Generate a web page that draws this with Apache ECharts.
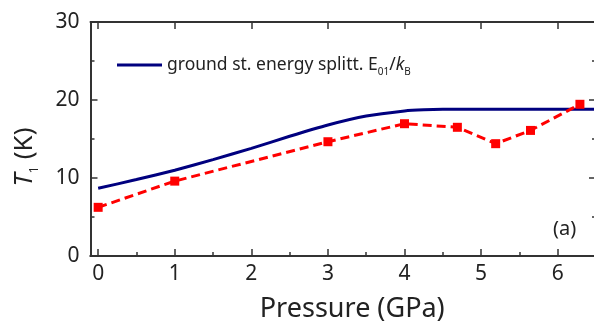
<!DOCTYPE html>
<html>
<head>
<meta charset="utf-8">
<script src="https://cdn.jsdelivr.net/npm/echarts@6/dist/echarts.min.js"></script>
<style>
html,body{margin:0;padding:0;background:#fff;}
#chart{width:594px;height:322px;}
</style>
</head>
<body>
<div id="chart"></div>
<script>
// Data
const pressureBlue = [0, 0.5, 1, 1.5, 2, 2.5, 3, 3.5, 4, 4.25, 4.5, 5, 5.5, 6, 6.5];
const energyBlue   = [8.68, 9.8, 11.0, 12.35, 13.8, 15.35, 16.8, 17.95, 18.6, 18.75, 18.8, 18.8, 18.8, 18.8, 18.8];
const pressureRed  = [0, 1, 3, 4, 4.69, 5.19, 5.645, 6.29];
const t1Red        = [6.24, 9.6, 14.65, 16.96, 16.5, 14.4, 16.1, 19.45];
const xMajorTicks  = [0, 1, 2, 3, 4, 5, 6];
const xMinorTicks  = [0.5, 1.5, 2.5, 3.5, 4.5, 5.5];
const yMajorTicks  = [0, 10, 20, 30];
const yMinorTicks  = [5, 15, 25];
const legendName   = 'ground st. energy splitt. E01/kB';

const FONT = 'Noto Sans';
const AXC = '#333';
const TXT = '#222';

const chart = echarts.init(document.getElementById('chart'), null, {renderer: 'canvas'});

const xBase = {type: 'value', min: -0.1, max: 6.5, splitLine: {show: false}};
const yBase = {type: 'value', min: 0, max: 30, splitLine: {show: false}};
function lineOn() { return {show: true, onZero: false, lineStyle: {color: AXC, width: 2}}; }

const option = {
  animation: false,
  backgroundColor: '#fff',
  grid: {left: 90.5, right: -2, top: 22, bottom: 66, containLabel: false, outerBoundsMode: 'none'},
  legend: {
    left: 117, top: 56, padding: 0,
    itemWidth: 45, itemHeight: 3, itemGap: 5,
    data: [{name: legendName, icon: 'rect'}],
    formatter: function () {
      return '{n|ground st. energy splitt. E}{s|01}{n|/}{i|k}{s|B}';
    },
    textStyle: {
      fontFamily: FONT, fontSize: 17.5, color: TXT,
      rich: {
        n: {fontFamily: FONT, fontSize: 17.5, color: TXT, lineHeight: 24, verticalAlign: 'middle'},
        i: {fontFamily: FONT, fontSize: 17.5, color: TXT, fontStyle: 'italic', lineHeight: 24, verticalAlign: 'middle'},
        s: {fontFamily: FONT, fontSize: 10, color: TXT, lineHeight: 10, verticalAlign: 'bottom'}
      }
    }
  },
  xAxis: [
    Object.assign({}, xBase, {
      position: 'bottom',
      axisLine: lineOn(),
      axisTick: {show: true, inside: true, length: 7, customValues: xMajorTicks, lineStyle: {color: AXC, width: 1.5}},
      axisLabel: {show: true, customValues: xMajorTicks, fontFamily: FONT, fontSize: 21, color: TXT, margin: 8},
      name: 'Pressure (GPa)', nameLocation: 'middle', nameGap: 40,
      nameTextStyle: {fontFamily: FONT, fontSize: 27, color: TXT, padding: [0, 0, 0, 18]}
    }),
    Object.assign({}, xBase, {
      position: 'bottom',
      axisLine: lineOn(),
      axisTick: {show: true, inside: true, length: 4, customValues: xMinorTicks, lineStyle: {color: AXC, width: 1.5}},
      axisLabel: {show: false}
    }),
    Object.assign({}, xBase, {
      position: 'top',
      axisLine: lineOn(),
      axisTick: {show: true, inside: true, length: 7, customValues: xMajorTicks, lineStyle: {color: AXC, width: 1.5}},
      axisLabel: {show: false}
    })
  ],
  yAxis: [
    Object.assign({}, yBase, {
      position: 'left', interval: 10,
      axisLine: lineOn(),
      axisTick: {show: true, inside: true, length: 7, customValues: yMajorTicks, lineStyle: {color: AXC, width: 1.5}},
      axisLabel: {show: true, customValues: yMajorTicks, fontFamily: FONT, fontSize: 21, color: TXT, margin: 11},
      name: '{i|T}{s|1}{n| (K)}', nameLocation: 'middle', nameRotate: 90, nameGap: 50,
      nameTextStyle: {
        fontFamily: FONT, fontSize: 26, color: TXT, padding: [0, 36, 0, 0],
        rich: {
          i: {fontFamily: FONT, fontSize: 26, fontStyle: 'italic', color: TXT, lineHeight: 32, verticalAlign: 'middle'},
          n: {fontFamily: FONT, fontSize: 26, color: TXT, lineHeight: 32, verticalAlign: 'middle'},
          s: {fontFamily: FONT, fontSize: 13, color: TXT, lineHeight: 13, verticalAlign: 'bottom'}
        }
      }
    }),
    Object.assign({}, yBase, {
      position: 'left',
      axisLine: lineOn(),
      axisTick: {show: true, inside: true, length: 4, customValues: yMinorTicks, lineStyle: {color: AXC, width: 1.5}},
      axisLabel: {show: false}
    }),
    Object.assign({}, yBase, {
      position: 'right',
      axisLine: lineOn(),
      axisTick: {show: true, inside: true, length: 7, customValues: yMajorTicks, lineStyle: {color: AXC, width: 1.5}},
      axisLabel: {show: false}
    }),
    Object.assign({}, yBase, {
      position: 'right',
      axisLine: lineOn(),
      axisTick: {show: true, inside: true, length: 4, customValues: yMinorTicks, lineStyle: {color: AXC, width: 1.5}},
      axisLabel: {show: false}
    })
  ],
  graphic: [{
    type: 'text', left: 553, top: 219,
    style: {text: '(a)', fontFamily: FONT, fontSize: 20, fill: TXT}
  }],
  series: [
    {
      name: legendName, type: 'line', xAxisIndex: 0, yAxisIndex: 0,
      data: pressureBlue.map((p, i) => [p, energyBlue[i]]),
      symbol: 'none', smooth: 0.15,
      lineStyle: {color: '#00007f', width: 3},
      itemStyle: {color: '#00007f'},
      z: 3
    },
    {
      name: 'T1', type: 'line', xAxisIndex: 0, yAxisIndex: 0,
      data: pressureRed.map((p, i) => [p, t1Red[i]]),
      symbol: 'rect', symbolSize: 9, showSymbol: true,
      lineStyle: {color: '#ff0000', width: 3, type: [9, 5]},
      itemStyle: {color: '#ff0000'},
      z: 4
    }
  ]
};
chart.setOption(option);
</script>
</body>
</html>
